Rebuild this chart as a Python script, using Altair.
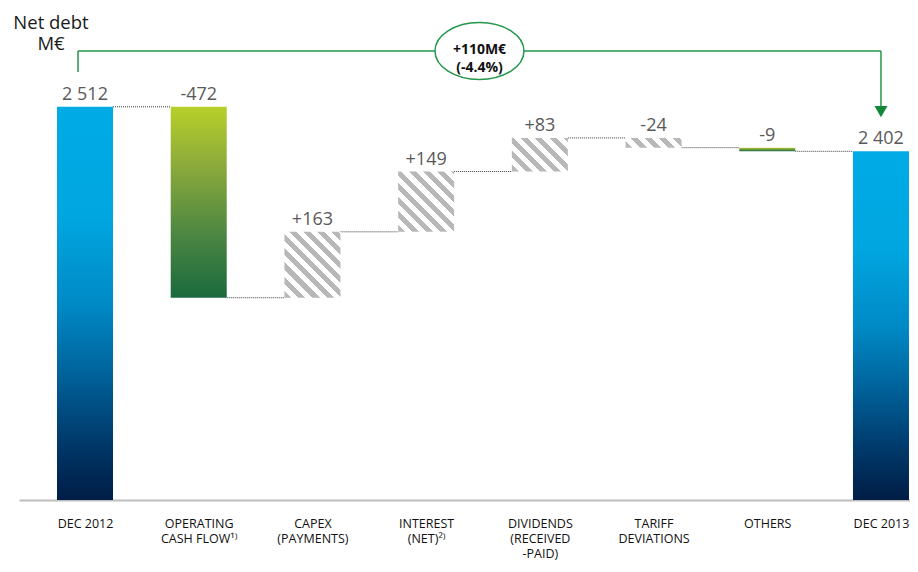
import json
import math
import altair as alt
import pandas as pd

# ---------------- data ----------------
categories = ["DEC 2012", "OPERATING|CASH FLOW¹⁾", "CAPEX|(PAYMENTS)", "INTEREST|(NET)²⁾",
              "DIVIDENDS|(RECEIVED|-PAID)", "TARIFF|DEVIATIONS", "OTHERS", "DEC 2013"]
start_total = 2512
end_total = 2402
deltas = [-472, 163, 149, 83, -24, -9]
hatched_categories = ["CAPEX|(PAYMENTS)", "INTEREST|(NET)²⁾", "DIVIDENDS|(RECEIVED|-PAID)", "TARIFF|DEVIATIONS"]
change_label = ["+110M€", "(-4.4%)"]
y_title = ["Net debt", "M€"]

# ---------------- layout ----------------
W, H = 891, 449
Y_MIN, Y_MAX = 1540, 2650
X_MIN = -0.5805
STEP_PX = 113.71
X_MAX = X_MIN + W / STEP_PX
HALF = 0.2463
PX_X = W / (X_MAX - X_MIN)
PX_Y = H / (Y_MAX - Y_MIN)

GREEN_LINE = "#23974a"
GREEN_ARROW = "#15873a"


def fmt_total(v):
    return f"{v:,}".replace(",", " ")


rows = [dict(idx=0, lo=Y_MIN, hi=start_total, label=fmt_total(start_total), kind="total")]
conn = []
level = start_total
conn.append(level)
for i, d in enumerate(deltas):
    new = level + d
    cat = categories[i + 1]
    kind = "hatch" if cat in hatched_categories else "green"
    rows.append(dict(idx=i + 1, lo=min(level, new), hi=max(level, new), label=f"{d:+d}", kind=kind))
    level = new
    conn.append(level)
rows.append(dict(idx=7, lo=Y_MIN, hi=end_total, label=fmt_total(end_total), kind="total"))

df = pd.DataFrame(rows)
df["x0"] = df["idx"] - HALF
df["x1"] = df["idx"] + HALF

cdf = pd.DataFrame({
    "x": [i + HALF for i in range(7)],
    "x2": [i + 1 - HALF for i in range(7)],
    "y": conn,
})

X_SCALE = alt.Scale(domain=[X_MIN, X_MAX], nice=False, zero=False)
Y_SCALE = alt.Scale(domain=[Y_MIN, Y_MAX], nice=False, zero=False)
label_expr = f"split({json.dumps(categories, ensure_ascii=False)}[datum.value], '|')"
X_AXIS = alt.Axis(values=list(range(8)), labelExpr=label_expr, title=None, grid=False, ticks=False,
                  domainColor="#bdbdbd", domainWidth=2, labelFontSize=12.5, labelColor="#111111",
                  labelFont="Open Sans",
                  labelPadding=17, labelBaseline="top", labelLineHeight=15, labelOverlap=False,
                  labelFlush=False, labelBound=False, labelAngle=0)


def X(f):
    return alt.X(f, scale=X_SCALE, axis=X_AXIS)


def Y(f):
    return alt.Y(f, scale=Y_SCALE, axis=None)


blue_grad = alt.LinearGradient(gradient="linear", x1=0, y1=0, x2=0, y2=1, stops=[
    alt.GradientStop(offset=0, color="#00abe6"),
    alt.GradientStop(offset=0.28, color="#00a6e0"),
    alt.GradientStop(offset=0.5, color="#008ac6"),
    alt.GradientStop(offset=0.68, color="#00629a"),
    alt.GradientStop(offset=0.84, color="#003c6e"),
    alt.GradientStop(offset=1, color="#001d45"),
])
green_grad = alt.LinearGradient(gradient="linear", x1=0, y1=0, x2=0, y2=1, stops=[
    alt.GradientStop(offset=0, color="#b7d02a"),
    alt.GradientStop(offset=0.3, color="#8dab3a"),
    alt.GradientStop(offset=0.65, color="#4f8842"),
    alt.GradientStop(offset=1, color="#1a6a3d"),
])


def hatch(w, h, period=10.0, frac=0.5, gray="#b8b8b8"):
    c = (w + h) / (w * w + h * h)
    n = (w + h) / math.sqrt(2) / period
    stops = []
    j = 0
    while j / n < 1:
        a, b, e = j / n, (j + frac) / n, (j + 1) / n
        stops += [(a, gray), (min(b, 1), gray)]
        if b < 1:
            stops += [(b, "#ffffff"), (min(e, 1), "#ffffff")]
        j += 1
    return alt.LinearGradient(gradient="linear", x1=0, y1=1, x2=c * w, y2=1 - c * h,
                              stops=[alt.GradientStop(offset=o, color=col) for o, col in stops])


base = alt.Chart(df)
layers = []

layers.append(alt.Chart(cdf).mark_rule(color="#3a3a3a", strokeDash=[1, 1], strokeWidth=1).encode(
    x=X("x:Q"), x2="x2:Q", y=Y("y:Q")))

layers.append(base.transform_filter(alt.datum.kind == "total").mark_bar(color=blue_grad).encode(
    x=X("x0:Q"), x2="x1:Q", y=Y("lo:Q"), y2="hi:Q"))
layers.append(base.transform_filter(alt.datum.kind == "green").mark_bar(color=green_grad).encode(
    x=X("x0:Q"), x2="x1:Q", y=Y("lo:Q"), y2="hi:Q"))

for r in rows:
    if r["kind"] != "hatch":
        continue
    w_px = 2 * HALF * PX_X
    h_px = (r["hi"] - r["lo"]) * PX_Y
    layers.append(base.transform_filter(alt.datum.idx == r["idx"]).mark_bar(color=hatch(w_px, h_px)).encode(
        x=X("x0:Q"), x2="x1:Q", y=Y("lo:Q"), y2="hi:Q"))

layers.append(base.mark_text(fontSize=18, color="#595959", baseline="alphabetic", dy=-7).encode(
    x=X("idx:Q"), y=Y("hi:Q"), text="label:N"))

# bracket annotation
BR_LEFT = -0.0616
BR_TOP = Y_MAX
bdf = pd.DataFrame({
    "x": [BR_LEFT, BR_LEFT, 7],
    "x2": [BR_LEFT, 7, 7],
    "y": [2598, BR_TOP, BR_TOP],
    "y2": [BR_TOP, BR_TOP, 2512],
})
layers.append(alt.Chart(bdf).mark_rule(color=GREEN_LINE, strokeWidth=1.5).encode(
    x=X("x:Q"), x2="x2:Q", y=Y("y:Q"), y2="y2:Q"))

adf = pd.DataFrame({"x": [7], "y": [2500]})
layers.append(alt.Chart(adf).mark_point(shape="triangle-down", filled=True, size=170, color=GREEN_ARROW,
                                        opacity=1).encode(x=X("x:Q"), y=Y("y:Q")))

ry = 0.64
k = 0.5523
ellipse = (f"M-1,0C-1,{-k*ry:.4f},{-k:.4f},{-ry},0,{-ry}C{k:.4f},{-ry},1,{-k*ry:.4f},1,0"
           f"C1,{k*ry:.4f},{k:.4f},{ry},0,{ry}C{-k:.4f},{ry},-1,{k*ry:.4f},-1,0Z")
edf = pd.DataFrame({"x": [(BR_LEFT + 7) / 2], "y": [BR_TOP]})
layers.append(alt.Chart(edf).mark_point(shape=ellipse, size=89 * 89, filled=True, fill="white",
                                        stroke=GREEN_LINE, strokeWidth=1.5, opacity=1).encode(
    x=X("x:Q"), y=Y("y:Q")))
layers.append(alt.Chart(edf).mark_text(text=change_label, fontSize=14, fontWeight="bold", color="#111111",
                                       baseline="middle", lineHeight=18, dy=-1).encode(
    x=X("x:Q"), y=Y("y:Q")))

tdf = pd.DataFrame({"a": [0]})
layers.append(alt.Chart(tdf).mark_text(text=y_title, fontSize=18.5, color="#1a1a1a", align="center",
                                       baseline="alphabetic", lineHeight=21).encode(
    x=alt.value(32), y=alt.value(-22)))

chart = alt.layer(*layers).properties(
    width=W, height=H,
    padding={"left": 11, "top": 43, "right": 0, "bottom": 60},
    autosize=alt.AutoSizeParams(type="none"),
).configure(font="Open Sans").configure_view(stroke=None)

chart.save("out.html", embed_options={"renderer": "svg", "actions": False})
